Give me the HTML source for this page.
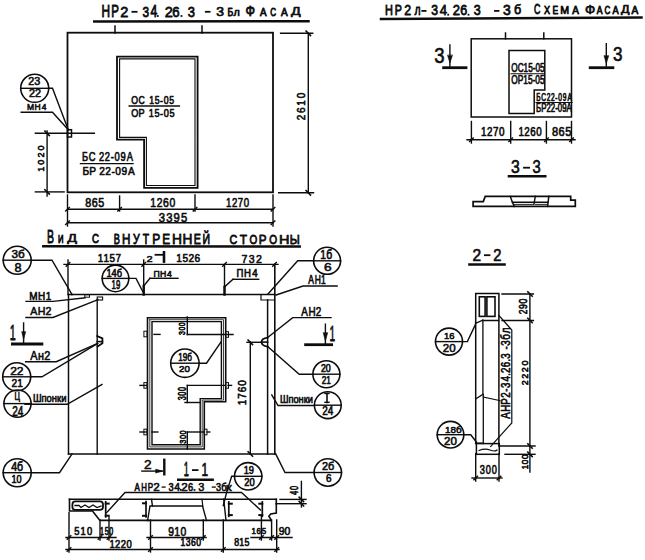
<!DOCTYPE html>
<html><head><meta charset="utf-8"><style>
html,body{margin:0;padding:0;background:#fff;}
body{width:645px;height:560px;overflow:hidden;}
svg{display:block;}
svg text{font-family:"Liberation Sans", sans-serif;fill:#0d0d0d;stroke:none;}
svg text.h{stroke:#0d0d0d;stroke-width:0.75px;stroke-linejoin:round;vector-effect:non-scaling-stroke;}
svg text.c{stroke:#0d0d0d;stroke-width:0.6px;stroke-linejoin:round;vector-effect:non-scaling-stroke;}
svg text.m{stroke:#0d0d0d;stroke-width:0.6px;stroke-linejoin:round;vector-effect:non-scaling-stroke;}
</style></head><body>
<svg width="645" height="560" viewBox="0 0 645 560">
<rect x="0" y="0" width="645" height="560" fill="#fff"/>
<g fill="none" stroke="#0d0d0d" stroke-linecap="square" stroke-linejoin="miter">
<text transform="translate(101.44,16.71) scale(0.754,1)" font-size="15.69" class="h">Н</text>
<text transform="translate(111.27,16.71) scale(0.730,1)" font-size="15.69" class="h">Р</text>
<text transform="translate(120.26,16.71) scale(0.942,1)" font-size="15.46" class="h">2</text>
<polyline points="132.4,11.8 136.6,11.8" stroke-width="1.8"/>
<text transform="translate(142.41,16.56) scale(0.777,1)" font-size="15.25" class="h">3</text>
<text transform="translate(150.54,16.71) scale(0.773,1)" font-size="15.69" class="h">4</text>
<rect x="156.9" y="15.1" width="1.8" height="1.8" fill="#0d0d0d" stroke="none"/>
<text transform="translate(164.66,16.71) scale(0.942,1)" font-size="15.46" class="h">2</text>
<text transform="translate(172.23,16.56) scale(0.864,1)" font-size="15.25" class="h">6</text>
<rect x="180.6" y="15.1" width="1.8" height="1.8" fill="#0d0d0d" stroke="none"/>
<text transform="translate(187.67,16.56) scale(0.846,1)" font-size="15.25" class="h">3</text>
<polyline points="205.8,11.8 209.6,11.8" stroke-width="1.8"/>
<text transform="translate(216.23,15.98) scale(1.073,1)" font-size="12.99" class="h">3</text>
<text transform="translate(227.38,16.01) scale(0.841,1)" font-size="10.47" class="h">Б</text>
<text transform="translate(233.39,16.42) scale(1.030,1)" font-size="9.32" class="h">Л</text>
<text transform="translate(245.50,16.44) scale(0.839,1)" font-size="14.89" class="h">Ф</text>
<text transform="translate(259.99,16.21) scale(0.844,1)" font-size="11.63" class="h">А</text>
<text transform="translate(270.28,16.10) scale(0.714,1)" font-size="11.30" class="h">С</text>
<text transform="translate(280.89,16.21) scale(0.857,1)" font-size="11.63" class="h">А</text>
<text transform="translate(291.12,14.90) scale(1.290,1)" font-size="11.04" class="h">Д</text>
<polyline points="94.3,21.5 308.5,21.3" stroke-width="2.5"/>
<rect x="67.5" y="32.7" width="205.5" height="159.6" stroke-width="1.8"/>
<polyline points="115.0,26.0 115.0,33.0" stroke-width="1.5"/>
<polyline points="202.0,26.0 202.0,33.0" stroke-width="1.5"/>
<polyline points="117.0,56.6 197.6,56.6 197.6,187.8 144.1,187.8 144.1,139.7 117.0,139.7 117.0,56.6" stroke-width="1.8"/>
<polyline points="119.6,58.9 195.0,58.9 195.0,185.5 146.4,185.5 146.4,137.4 119.6,137.4 119.6,58.9" stroke-width="1.1"/>
<text transform="translate(131.26,103.85) scale(0.761,1)" font-size="11.41" class="m">О</text>
<text transform="translate(138.53,103.85) scale(0.761,1)" font-size="11.41" class="m">С</text>
<text transform="translate(149.20,103.85) scale(0.761,1)" font-size="11.41" class="m">1</text>
<text transform="translate(154.65,103.85) scale(0.761,1)" font-size="11.41" class="m">5</text>
<text transform="translate(160.10,103.85) scale(0.761,1)" font-size="11.41" class="m">-</text>
<text transform="translate(163.64,103.85) scale(0.761,1)" font-size="11.41" class="m">0</text>
<text transform="translate(169.18,103.85) scale(0.761,1)" font-size="11.41" class="m">5</text>
<polyline points="129.2,106.0 179.4,106.0" stroke-width="1.4"/>
<text transform="translate(131.24,117.25) scale(0.810,1)" font-size="11.27" class="m">О</text>
<text transform="translate(138.52,117.25) scale(0.810,1)" font-size="11.27" class="m">Р</text>
<text transform="translate(148.80,117.25) scale(0.810,1)" font-size="11.27" class="m">1</text>
<text transform="translate(154.44,117.25) scale(0.810,1)" font-size="11.27" class="m">5</text>
<text transform="translate(160.08,117.25) scale(0.810,1)" font-size="11.27" class="m">-</text>
<text transform="translate(163.72,117.25) scale(0.810,1)" font-size="11.27" class="m">0</text>
<text transform="translate(169.45,117.25) scale(0.810,1)" font-size="11.27" class="m">5</text>
<circle cx="34.7" cy="88.3" r="14.0" stroke-width="1.6"/>
<polyline points="20.7,88.3 48.7,88.3" stroke-width="1.4"/>
<text transform="translate(28.36,84.75) scale(1.059,1)" font-size="10.14" class="c">23</text>
<text transform="translate(29.01,97.35) scale(1.049,1)" font-size="10.29" class="c">22</text>
<text transform="translate(26.97,110.45) scale(0.920,1)" font-size="9.23" class="m">М</text>
<text transform="translate(34.52,110.45) scale(0.920,1)" font-size="9.23" class="m">Н</text>
<text transform="translate(41.64,110.45) scale(0.920,1)" font-size="9.23" class="m">4</text>
<polyline points="21.2,112.2 52.5,112.2 68.5,130.0" stroke-width="1.4"/>
<polyline points="48.7,88.3 52.5,88.3 68.0,129.0" stroke-width="1.4"/>
<rect x="67.5" y="129.7" width="4.0" height="7.3" stroke-width="1.5"/>
<polyline points="35.4,133.3 94.3,133.3" stroke-width="1.4"/>
<polyline points="47.1,131.0 47.1,196.0" stroke-width="1.4"/>
<polyline points="44.9,131.1 49.3,135.5" stroke-width="1.6"/>
<polyline points="44.9,189.7 49.3,194.1" stroke-width="1.6"/>
<g transform="translate(36.70,171.20) rotate(-90)">
<text transform="translate(-0.53,7.15) scale(0.920,1)" font-size="9.86" class="m">1</text>
<text transform="translate(6.54,7.15) scale(0.920,1)" font-size="9.86" class="m">0</text>
<text transform="translate(13.61,7.15) scale(0.920,1)" font-size="9.86" class="m">2</text>
<text transform="translate(20.63,7.15) scale(0.920,1)" font-size="9.86" class="m">0</text>
</g>
<polyline points="35.4,191.9 64.1,191.9" stroke-width="1.4"/>
<text transform="translate(82.00,161.45) scale(0.754,1)" font-size="12.39" class="m">Б</text>
<text transform="translate(88.68,161.45) scale(0.754,1)" font-size="12.39" class="m">С</text>
<text transform="translate(99.10,161.45) scale(0.754,1)" font-size="12.39" class="m">2</text>
<text transform="translate(104.84,161.45) scale(0.754,1)" font-size="12.39" class="m">2</text>
<text transform="translate(110.63,161.45) scale(0.754,1)" font-size="12.39" class="m">-</text>
<text transform="translate(114.45,161.45) scale(0.754,1)" font-size="12.39" class="m">0</text>
<text transform="translate(120.38,161.45) scale(0.754,1)" font-size="12.39" class="m">9</text>
<text transform="translate(126.63,161.45) scale(0.754,1)" font-size="12.39" class="m">А</text>
<polyline points="80.5,163.6 133.0,163.6" stroke-width="1.4"/>
<text transform="translate(82.44,174.55) scale(0.867,1)" font-size="11.69" class="m">Б</text>
<text transform="translate(89.16,174.55) scale(0.867,1)" font-size="11.69" class="m">Р</text>
<text transform="translate(99.30,174.55) scale(0.867,1)" font-size="11.69" class="m">2</text>
<text transform="translate(105.31,174.55) scale(0.867,1)" font-size="11.69" class="m">2</text>
<text transform="translate(111.38,174.55) scale(0.867,1)" font-size="11.69" class="m">-</text>
<text transform="translate(115.32,174.55) scale(0.867,1)" font-size="11.69" class="m">0</text>
<text transform="translate(121.53,174.55) scale(0.867,1)" font-size="11.69" class="m">9</text>
<text transform="translate(128.11,174.55) scale(0.867,1)" font-size="11.69" class="m">А</text>
<polyline points="67.5,209.3 273.0,209.3" stroke-width="1.4"/>
<polyline points="65.7,211.1 69.3,207.5" stroke-width="1.4"/>
<polyline points="117.8,211.1 121.4,207.5" stroke-width="1.4"/>
<polyline points="193.2,211.1 196.8,207.5" stroke-width="1.4"/>
<polyline points="271.2,211.1 274.8,207.5" stroke-width="1.4"/>
<polyline points="67.5,195.0 67.5,226.0" stroke-width="1.4"/>
<polyline points="119.6,196.0 119.6,211.0" stroke-width="1.4"/>
<polyline points="195.0,195.0 195.0,211.0" stroke-width="1.4"/>
<polyline points="273.0,195.0 273.0,226.0" stroke-width="1.4"/>
<text transform="translate(85.27,206.85) scale(0.877,1)" font-size="12.25" class="m">8</text>
<text transform="translate(91.74,206.85) scale(0.877,1)" font-size="12.25" class="m">6</text>
<text transform="translate(98.31,206.85) scale(0.877,1)" font-size="12.25" class="m">5</text>
<text transform="translate(150.37,207.35) scale(0.801,1)" font-size="12.96" class="m">1</text>
<text transform="translate(156.70,207.35) scale(0.801,1)" font-size="12.96" class="m">2</text>
<text transform="translate(162.97,207.35) scale(0.801,1)" font-size="12.96" class="m">6</text>
<text transform="translate(169.46,207.35) scale(0.801,1)" font-size="12.96" class="m">0</text>
<text transform="translate(225.93,207.35) scale(0.742,1)" font-size="12.96" class="m">1</text>
<text transform="translate(231.90,207.35) scale(0.742,1)" font-size="12.96" class="m">2</text>
<text transform="translate(237.83,207.35) scale(0.742,1)" font-size="12.96" class="m">7</text>
<text transform="translate(243.85,207.35) scale(0.742,1)" font-size="12.96" class="m">0</text>
<polyline points="67.5,222.8 273.0,222.8" stroke-width="1.4"/>
<polyline points="65.7,224.6 69.3,221.0" stroke-width="1.4"/>
<polyline points="271.2,224.6 274.8,221.0" stroke-width="1.4"/>
<text transform="translate(158.70,221.85) scale(0.920,1)" font-size="12.25" class="m">3</text>
<text transform="translate(166.19,221.85) scale(0.920,1)" font-size="12.25" class="m">3</text>
<text transform="translate(173.61,221.85) scale(0.920,1)" font-size="12.25" class="m">9</text>
<text transform="translate(181.04,221.85) scale(0.920,1)" font-size="12.25" class="m">5</text>
<polyline points="280.6,33.3 312.7,33.3" stroke-width="1.4"/>
<polyline points="278.7,192.8 313.5,192.8" stroke-width="1.4"/>
<polyline points="308.3,33.3 308.3,192.8" stroke-width="1.4"/>
<polyline points="306.1,31.1 310.5,35.5" stroke-width="1.6"/>
<polyline points="306.1,190.6 310.5,195.0" stroke-width="1.6"/>
<g transform="translate(297.50,120.00) rotate(-90)">
<text transform="translate(-0.35,7.85) scale(0.920,1)" font-size="10.85" class="m">2</text>
<text transform="translate(6.99,7.85) scale(0.920,1)" font-size="10.85" class="m">6</text>
<text transform="translate(14.18,7.85) scale(0.920,1)" font-size="10.85" class="m">1</text>
<text transform="translate(21.66,7.85) scale(0.920,1)" font-size="10.85" class="m">0</text>
</g>
<text transform="translate(46.95,243.01) scale(0.553,1)" font-size="19.02" class="h">В</text>
<text transform="translate(57.88,243.01) scale(0.698,1)" font-size="10.91" class="h">И</text>
<text transform="translate(67.22,242.09) scale(1.240,1)" font-size="11.60" class="h">Д</text>
<text transform="translate(91.91,243.39) scale(0.803,1)" font-size="12.01" class="h">С</text>
<text transform="translate(113.75,244.01) scale(0.634,1)" font-size="14.53" class="h">В</text>
<text transform="translate(121.96,244.01) scale(0.802,1)" font-size="14.53" class="h">Н</text>
<text transform="translate(133.07,243.87) scale(0.735,1)" font-size="14.32" class="h">У</text>
<text transform="translate(142.68,244.01) scale(0.715,1)" font-size="14.53" class="h">Т</text>
<text transform="translate(152.23,244.01) scale(0.827,1)" font-size="14.53" class="h">Р</text>
<text transform="translate(162.14,244.01) scale(0.811,1)" font-size="14.53" class="h">Е</text>
<text transform="translate(171.88,244.01) scale(0.949,1)" font-size="14.53" class="h">Н</text>
<text transform="translate(182.38,244.01) scale(0.949,1)" font-size="14.53" class="h">Н</text>
<text transform="translate(193.83,244.01) scale(0.736,1)" font-size="14.53" class="h">Е</text>
<text transform="translate(202.55,244.01) scale(0.737,1)" font-size="14.25" class="h">Й</text>
<text transform="translate(229.55,244.19) scale(0.855,1)" font-size="12.57" class="h">С</text>
<text transform="translate(239.75,244.31) scale(0.926,1)" font-size="12.93" class="h">Т</text>
<text transform="translate(249.44,244.19) scale(0.793,1)" font-size="12.57" class="h">О</text>
<text transform="translate(258.76,244.31) scale(0.900,1)" font-size="12.93" class="h">Р</text>
<text transform="translate(269.13,244.19) scale(0.804,1)" font-size="12.57" class="h">О</text>
<text transform="translate(279.03,244.31) scale(1.122,1)" font-size="12.93" class="h">Н</text>
<text transform="translate(289.78,244.31) scale(0.877,1)" font-size="12.93" class="h">Ы</text>
<polyline points="43.3,246.3 299.7,246.4" stroke-width="2.5"/>
<circle cx="17.2" cy="260.2" r="14.0" stroke-width="1.6"/>
<polyline points="3.2,260.2 31.2,260.2" stroke-width="1.4"/>
<text transform="translate(11.58,258.49) scale(1.056,1)" font-size="11.06" class="c">3б</text>
<text transform="translate(14.58,271.62) scale(0.988,1)" font-size="12.82" class="c">8</text>
<polyline points="31.2,260.2 52.0,260.2 72.0,294.5" stroke-width="1.4"/>
<polyline points="64.0,264.4 278.0,264.4" stroke-width="1.4"/>
<polyline points="66.2,266.2 69.8,262.6" stroke-width="1.4"/>
<polyline points="141.9,266.2 145.5,262.6" stroke-width="1.4"/>
<polyline points="222.7,266.2 226.3,262.6" stroke-width="1.4"/>
<polyline points="272.7,266.2 276.3,262.6" stroke-width="1.4"/>
<polyline points="68.0,260.0 68.0,294.5" stroke-width="1.4"/>
<polyline points="143.7,260.0 143.7,294.5" stroke-width="1.4"/>
<polyline points="224.5,264.4 224.5,294.5" stroke-width="1.4"/>
<polyline points="143.7,286.0 143.7,294.5" stroke-width="2.4"/>
<polyline points="224.5,287.0 224.5,294.5" stroke-width="2.4"/>
<text transform="translate(97.81,262.35) scale(0.853,1)" font-size="11.55" class="m">1</text>
<text transform="translate(103.48,262.35) scale(0.853,1)" font-size="11.55" class="m">1</text>
<text transform="translate(109.50,262.35) scale(0.853,1)" font-size="11.55" class="m">5</text>
<text transform="translate(115.47,262.35) scale(0.853,1)" font-size="11.55" class="m">7</text>
<text transform="translate(146.60,262.35) scale(1.148,1)" font-size="9.57" class="m">2</text>
<polyline points="155.5,254.8 162.4,254.8" stroke-width="1.8"/>
<polyline points="164.0,252.3 164.0,261.6" stroke-width="2.6"/>
<text transform="translate(176.29,262.35) scale(0.877,1)" font-size="11.55" class="m">1</text>
<text transform="translate(182.44,262.35) scale(0.877,1)" font-size="11.55" class="m">5</text>
<text transform="translate(188.54,262.35) scale(0.877,1)" font-size="11.55" class="m">2</text>
<text transform="translate(194.53,262.35) scale(0.877,1)" font-size="11.55" class="m">6</text>
<text transform="translate(241.62,262.65) scale(0.920,1)" font-size="11.55" class="m">7</text>
<text transform="translate(248.75,262.65) scale(0.920,1)" font-size="11.55" class="m">3</text>
<text transform="translate(255.88,262.65) scale(0.920,1)" font-size="11.55" class="m">2</text>
<circle cx="115.5" cy="278.4" r="13.3" stroke-width="1.6"/>
<polyline points="102.2,278.4 128.8,278.4" stroke-width="1.4"/>
<text transform="translate(106.46,277.04) scale(0.854,1)" font-size="10.85" class="c">14б</text>
<text transform="translate(111.57,289.12) scale(0.607,1)" font-size="12.82" class="c">19</text>
<polyline points="128.8,278.4 136.0,278.4 142.8,291.6" stroke-width="1.4"/>
<text transform="translate(153.46,276.65) scale(0.920,1)" font-size="9.44" class="m">П</text>
<text transform="translate(160.01,276.65) scale(0.920,1)" font-size="9.44" class="m">Н</text>
<text transform="translate(167.09,276.65) scale(0.920,1)" font-size="9.44" class="m">4</text>
<polyline points="150.0,278.3 178.0,278.3" stroke-width="1.4"/>
<polyline points="150.0,278.3 143.7,286.0" stroke-width="1.4"/>
<text transform="translate(236.38,276.95) scale(0.920,1)" font-size="10.42" class="m">П</text>
<text transform="translate(244.06,276.95) scale(0.920,1)" font-size="10.42" class="m">Н</text>
<text transform="translate(252.32,276.95) scale(0.920,1)" font-size="10.42" class="m">4</text>
<polyline points="233.0,279.3 258.7,279.3" stroke-width="1.4"/>
<polyline points="233.0,279.3 224.5,286.9" stroke-width="1.4"/>
<polyline points="68.5,294.5 274.5,294.5" stroke-width="1.5"/>
<polyline points="68.5,294.5 68.5,454.0" stroke-width="1.5"/>
<polyline points="274.8,264.4 274.8,454.0" stroke-width="1.6"/>
<polyline points="97.2,299.4 97.2,454.0" stroke-width="1.4"/>
<polyline points="267.6,300.0 267.6,454.0" stroke-width="1.5"/>
<polyline points="68.5,454.0 275.0,454.0" stroke-width="1.5"/>
<rect x="84.8" y="294.7" width="4.7" height="2.5" stroke-width="1.0"/>
<rect x="97.2" y="297.0" width="5.4" height="3.0" stroke-width="1.1"/>
<polyline points="261.0,294.7 261.0,300.0 274.5,300.0" stroke-width="1.2"/>
<polyline points="97.2,336.0 102.4,338.4 102.4,343.2 97.6,346.4" stroke-width="1.8"/>
<polyline points="97.2,341.6 102.4,341.6" stroke-width="1.6"/>
<path d="M267.6,337.6 C263.5,338.2 261.5,340 261.5,342.1 C261.5,344.3 263.5,346.1 267.6,346.7" stroke-width="1.8"/>
<polyline points="261.5,342.1 267.6,342.1" stroke-width="1.6"/>
<text transform="translate(29.35,299.85) scale(0.920,1)" font-size="10.85" class="m">М</text>
<text transform="translate(38.08,299.85) scale(0.920,1)" font-size="10.85" class="m">Н</text>
<text transform="translate(45.76,299.85) scale(0.920,1)" font-size="10.85" class="m">1</text>
<polyline points="26.0,301.4 53.0,301.4 85.0,297.8" stroke-width="1.4"/>
<text transform="translate(30.15,315.35) scale(0.920,1)" font-size="11.55" class="m">А</text>
<text transform="translate(37.79,315.35) scale(0.920,1)" font-size="11.55" class="m">Н</text>
<text transform="translate(45.48,315.35) scale(0.920,1)" font-size="11.55" class="m">2</text>
<polyline points="26.0,317.5 53.0,317.5 98.0,299.6" stroke-width="1.4"/>
<polyline points="41.0,299.4 41.0,299.4" stroke-width="1.4"/>
<polyline points="72.0,294.5 72.0,294.5" stroke-width="1.4"/>
<text transform="translate(9.84,339.55) scale(0.490,1)" font-size="22.03" class="m">1</text>
<polyline points="23.6,323.0 23.6,343.0" stroke-width="1.4"/>
<path d="M21.8,332 L23.6,339.5 L25.6,332 Z" fill="#0d0d0d" stroke-width="0.6"/>
<polyline points="12.4,344.0 41.9,344.0" stroke-width="2.8"/>
<text transform="translate(30.15,359.85) scale(0.891,1)" font-size="12.25" class="m">А</text>
<text transform="translate(38.12,359.85) scale(0.891,1)" font-size="12.25" class="m">н</text>
<text transform="translate(44.34,359.85) scale(0.891,1)" font-size="12.25" class="m">2</text>
<polyline points="25.6,361.7 56.3,361.7 97.6,343.5" stroke-width="1.4"/>
<circle cx="16.7" cy="376.8" r="14.0" stroke-width="1.6"/>
<polyline points="2.7,376.8 30.7,376.8" stroke-width="1.4"/>
<text transform="translate(10.15,374.85) scale(1.084,1)" font-size="11.14" class="c">22</text>
<text transform="translate(11.54,387.35) scale(0.911,1)" font-size="11.14" class="c">21</text>
<polyline points="30.7,376.8 42.0,376.8 97.6,343.5" stroke-width="1.4"/>
<circle cx="17.5" cy="403.6" r="13.6" stroke-width="1.6"/>
<polyline points="3.9,403.6 31.1,403.6" stroke-width="1.4"/>
<text transform="translate(14.56,400.17) scale(0.674,1)" font-size="10.90" class="c">Ц</text>
<text transform="translate(12.15,416.10) scale(0.722,1)" font-size="13.86" class="c">24</text>
<text transform="translate(32.90,402.14) scale(0.846,1)" font-size="11.14" class="m">Шпонки</text>
<polyline points="25.0,404.3 67.2,404.3 102.0,384.5" stroke-width="1.4"/>
<circle cx="17.2" cy="472.7" r="14.0" stroke-width="1.6"/>
<polyline points="3.2,472.7 31.2,472.7" stroke-width="1.4"/>
<text transform="translate(11.14,470.63) scale(0.876,1)" font-size="12.11" class="c">4б</text>
<text transform="translate(11.47,483.14) scale(0.839,1)" font-size="10.85" class="c">10</text>
<polyline points="31.2,472.7 59.5,472.7 72.0,454.0" stroke-width="1.4"/>
<polyline points="147.5,317.8 225.7,317.8 225.7,401.7 204.3,401.7 204.3,449.0 147.5,449.0 147.5,317.8" stroke-width="1.6"/>
<polyline points="149.8,319.7 223.5,319.7 223.5,400.1 202.2,400.1 202.2,446.9 149.8,446.9 149.8,319.7" stroke-width="0.8"/>
<polyline points="152.0,321.6 221.4,321.6 221.4,398.6 200.2,398.6 200.2,444.8 152.0,444.8 152.0,321.6" stroke-width="1.4"/>
<rect x="143.9" y="331.2" width="3.1" height="5.6" stroke-width="1.0"/>
<rect x="143.9" y="382.6" width="3.1" height="5.6" stroke-width="1.0"/>
<rect x="143.9" y="429.2" width="3.1" height="5.6" stroke-width="1.0"/>
<rect x="225.7" y="331.7" width="2.8" height="5.6" stroke-width="1.0"/>
<rect x="225.7" y="382.6" width="2.8" height="5.6" stroke-width="1.0"/>
<rect x="204.3" y="429.2" width="2.7" height="5.6" stroke-width="1.0"/>
<polyline points="140.0,385.4 147.0,385.4" stroke-width="1.4"/>
<polyline points="140.0,432.0 147.0,432.0" stroke-width="1.4"/>
<polyline points="152.0,432.0 157.8,432.0" stroke-width="1.4"/>
<polyline points="228.0,385.4 231.5,385.4" stroke-width="1.4"/>
<polyline points="207.0,432.0 209.8,432.0" stroke-width="1.4"/>
<polyline points="154.0,334.4 160.0,334.4" stroke-width="1.4"/>
<polyline points="187.3,317.0 187.3,334.6" stroke-width="1.4"/>
<polyline points="187.3,334.5 233.0,334.5" stroke-width="1.4"/>
<g transform="translate(178.40,334.80) rotate(-90)">
<text transform="translate(-0.13,6.45) scale(0.783,1)" font-size="8.87" class="m">3</text>
<text transform="translate(4.24,6.45) scale(0.783,1)" font-size="8.87" class="m">0</text>
<text transform="translate(8.64,6.45) scale(0.783,1)" font-size="8.87" class="m">0</text>
</g>
<polyline points="187.3,385.4 187.3,402.5" stroke-width="1.4"/>
<polyline points="187.3,385.4 225.0,385.4" stroke-width="1.4"/>
<polyline points="185.0,402.5 199.7,402.5" stroke-width="1.4"/>
<g transform="translate(178.00,400.20) rotate(-90)">
<text transform="translate(-0.14,7.55) scale(0.695,1)" font-size="10.42" class="m">3</text>
<text transform="translate(4.55,7.55) scale(0.695,1)" font-size="10.42" class="m">0</text>
<text transform="translate(9.28,7.55) scale(0.695,1)" font-size="10.42" class="m">0</text>
</g>
<polyline points="187.3,432.0 187.3,449.0" stroke-width="1.4"/>
<polyline points="187.3,432.0 204.0,432.0" stroke-width="1.4"/>
<g transform="translate(178.80,443.60) rotate(-90)">
<text transform="translate(-0.15,6.75) scale(0.800,1)" font-size="9.30" class="m">3</text>
<text transform="translate(4.50,6.75) scale(0.800,1)" font-size="9.30" class="m">0</text>
<text transform="translate(9.18,6.75) scale(0.800,1)" font-size="9.30" class="m">0</text>
</g>
<circle cx="184.9" cy="363.2" r="14.2" stroke-width="1.6"/>
<polyline points="170.7,363.2 199.1,363.2" stroke-width="1.4"/>
<text transform="translate(178.34,360.73) scale(0.703,1)" font-size="11.55" class="c">19б</text>
<text transform="translate(178.96,372.35) scale(1.004,1)" font-size="9.72" class="c">20</text>
<polyline points="199.1,363.2 206.5,363.2 221.0,342.0" stroke-width="1.4"/>
<polyline points="250.3,342.0 250.3,454.0" stroke-width="1.4"/>
<polyline points="247.0,342.3 261.5,342.3" stroke-width="1.4"/>
<polyline points="248.1,340.1 252.5,344.5" stroke-width="1.6"/>
<polyline points="248.1,451.8 252.5,456.2" stroke-width="1.6"/>
<g transform="translate(238.00,404.60) rotate(-90)">
<text transform="translate(-0.60,7.85) scale(0.920,1)" font-size="10.85" class="m">1</text>
<text transform="translate(5.86,7.85) scale(0.920,1)" font-size="10.85" class="m">7</text>
<text transform="translate(12.26,7.85) scale(0.920,1)" font-size="10.85" class="m">6</text>
<text transform="translate(18.86,7.85) scale(0.920,1)" font-size="10.85" class="m">0</text>
</g>
<circle cx="327.1" cy="260.8" r="13.5" stroke-width="1.6"/>
<polyline points="313.6,260.8 340.6,260.8" stroke-width="1.4"/>
<text transform="translate(320.37,258.93) scale(0.858,1)" font-size="12.11" class="c">1б</text>
<text transform="translate(324.06,271.03) scale(1.192,1)" font-size="11.55" class="c">6</text>
<polyline points="313.6,260.8 297.7,260.8 268.0,294.0" stroke-width="1.4"/>
<text transform="translate(308.25,284.45) scale(0.668,1)" font-size="12.68" class="m">А</text>
<text transform="translate(314.73,284.45) scale(0.668,1)" font-size="12.68" class="m">Н</text>
<text transform="translate(321.03,284.45) scale(0.668,1)" font-size="12.68" class="m">1</text>
<polyline points="337.1,286.0 303.0,286.0 276.0,295.0" stroke-width="1.4"/>
<text transform="translate(301.15,316.35) scale(0.762,1)" font-size="12.96" class="m">А</text>
<text transform="translate(308.48,316.35) scale(0.762,1)" font-size="12.96" class="m">Н</text>
<text transform="translate(315.86,316.35) scale(0.762,1)" font-size="12.96" class="m">2</text>
<polyline points="331.0,317.6 292.7,317.6 267.6,337.6" stroke-width="1.4"/>
<text transform="translate(329.39,341.15) scale(0.465,1)" font-size="21.74" class="m">1</text>
<polyline points="325.4,324.2 325.4,344.0" stroke-width="1.4"/>
<path d="M323.3,333 L325.4,341 L327.6,333 Z" fill="#0d0d0d" stroke-width="0.6"/>
<polyline points="305.6,344.7 331.6,344.7" stroke-width="2.8"/>
<circle cx="326.4" cy="374.2" r="13.5" stroke-width="1.6"/>
<polyline points="312.9,374.2 339.9,374.2" stroke-width="1.4"/>
<text transform="translate(320.96,371.65) scale(0.871,1)" font-size="10.14" class="c">20</text>
<text transform="translate(321.64,384.25) scale(0.743,1)" font-size="11.14" class="c">21</text>
<polyline points="312.9,374.2 299.2,374.2 267.6,346.5" stroke-width="1.4"/>
<circle cx="327.8" cy="405.2" r="13.4" stroke-width="1.6"/>
<polyline points="314.4,405.2 341.2,405.2" stroke-width="1.4"/>
<text transform="translate(322.15,415.45) scale(0.833,1)" font-size="12.00" class="c">24</text>
<polyline points="327.0,393.5 327.0,402.5" stroke-width="1.6"/>
<polyline points="325.0,393.5 329.0,393.5" stroke-width="1.4"/>
<polyline points="325.0,402.3 329.0,402.3" stroke-width="1.4"/>
<text transform="translate(279.91,403.34) scale(0.833,1)" font-size="11.14" class="m">Шпонки</text>
<polyline points="313.7,405.5 278.0,405.5 271.8,395.0" stroke-width="1.4"/>
<circle cx="327.8" cy="472.5" r="13.7" stroke-width="1.6"/>
<polyline points="314.1,472.5 341.5,472.5" stroke-width="1.4"/>
<text transform="translate(322.00,470.14) scale(0.957,1)" font-size="11.41" class="c">2б</text>
<text transform="translate(326.06,482.25) scale(0.962,1)" font-size="10.28" class="c">6</text>
<polyline points="314.1,472.5 285.0,472.5 275.5,453.5" stroke-width="1.4"/>
<text transform="translate(143.97,468.85) scale(1.072,1)" font-size="12.71" class="m">2</text>
<polyline points="141.9,471.1 162.0,471.1" stroke-width="1.4"/>
<path d="M156,469.3 L163,471.1 L156,472.9 Z" fill="#0d0d0d" stroke-width="0.6"/>
<polyline points="164.3,459.8 164.3,474.3" stroke-width="2.4"/>
<text transform="translate(183.86,476.45) scale(0.467,1)" font-size="19.71" class="m">1</text>
<polyline points="192.9,470.1 197.6,470.1" stroke-width="1.8"/>
<text transform="translate(201.45,476.45) scale(0.634,1)" font-size="18.84" class="m">1</text>
<polyline points="178.2,479.7 212.7,479.7" stroke-width="2.4"/>
<text transform="translate(134.45,490.65) scale(0.679,1)" font-size="11.74" class="m">А</text>
<text transform="translate(141.22,490.65) scale(0.669,1)" font-size="11.74" class="m">Н</text>
<text transform="translate(147.81,490.65) scale(0.685,1)" font-size="11.74" class="m">Р</text>
<text transform="translate(153.37,490.65) scale(1.007,1)" font-size="11.57" class="m">2</text>
<polyline points="162.2,487.1 165.0,487.1" stroke-width="1.3"/>
<text transform="translate(168.48,490.54) scale(0.812,1)" font-size="11.41" class="m">3</text>
<text transform="translate(174.24,490.65) scale(0.894,1)" font-size="11.74" class="m">4</text>
<rect x="179.9" y="489.0" width="1.8" height="1.8" fill="#0d0d0d" stroke="none"/>
<text transform="translate(181.27,490.65) scale(1.007,1)" font-size="11.57" class="m">2</text>
<text transform="translate(187.99,490.54) scale(0.811,1)" font-size="11.41" class="m">6</text>
<rect x="193.6" y="489.0" width="1.8" height="1.8" fill="#0d0d0d" stroke="none"/>
<text transform="translate(198.21,490.54) scale(0.960,1)" font-size="11.41" class="m">3</text>
<polyline points="212.4,487.1 215.2,487.1" stroke-width="1.3"/>
<text transform="translate(215.99,490.54) scale(0.794,1)" font-size="11.41" class="m">3</text>
<text transform="translate(221.29,490.54) scale(0.861,1)" font-size="10.87" class="m">б</text>
<text transform="translate(225.87,490.65) scale(1.201,1)" font-size="11.32" class="m">к</text>
<polyline points="106.7,512.6 125.0,492.5 241.5,492.5 260.5,510.0" stroke-width="1.4"/>
<circle cx="248.2" cy="476.3" r="13.7" stroke-width="1.6"/>
<polyline points="234.5,476.3 261.9,476.3" stroke-width="1.4"/>
<text transform="translate(243.66,473.94) scale(0.848,1)" font-size="10.85" class="c">19</text>
<text transform="translate(244.28,485.55) scale(0.911,1)" font-size="10.28" class="c">20</text>
<polyline points="234.5,476.3 231.7,476.3 226.8,491.6 223.3,505.6" stroke-width="1.4"/>
<polyline points="69.5,499.2 276.3,499.2" stroke-width="1.6"/>
<polyline points="69.5,499.2 69.5,511.0 92.5,511.0 99.9,520.4 148.0,520.4" stroke-width="1.6"/>
<polyline points="147.6,520.3 150.0,506.0 202.5,506.0 206.5,520.4" stroke-width="1.4"/>
<polyline points="151.6,499.3 152.4,506.0" stroke-width="1.4"/>
<polyline points="202.0,499.3 202.8,506.3" stroke-width="1.2"/>
<polyline points="147.6,520.4 270.7,520.4" stroke-width="1.6"/>
<polyline points="223.7,499.2 226.0,520.4" stroke-width="1.4"/>
<polyline points="276.3,499.2 276.3,513.0 270.7,514.0 268.8,516.3 270.7,519.1 270.7,520.5" stroke-width="1.6"/>
<rect x="72.4" y="501.4" width="30.6" height="8.5" rx="3" stroke-width="1.8"/>
<path d="M75,505.5 L79,505.5 L81,507.5 L85,505 L89,507.5 L93,505 L97,507.5 L101,506" stroke-width="1.3"/>
<polyline points="105.7,501.8 105.7,516.9" stroke-width="1.7"/>
<polyline points="105.7,503.6 108.7,503.6" stroke-width="2.0"/>
<polyline points="105.7,515.7 108.7,515.7" stroke-width="2.0"/>
<polyline points="146.0,501.5 146.0,517.0" stroke-width="1.7"/>
<polyline points="146.0,503.3 143.0,503.3" stroke-width="2.0"/>
<polyline points="146.0,515.8 143.0,515.8" stroke-width="2.0"/>
<polyline points="228.8,501.9 228.8,516.3" stroke-width="1.7"/>
<polyline points="228.8,503.7 231.8,503.7" stroke-width="2.0"/>
<polyline points="228.8,515.1 231.8,515.1" stroke-width="2.0"/>
<polyline points="262.3,501.9 262.3,516.3" stroke-width="1.7"/>
<polyline points="262.3,503.7 259.3,503.7" stroke-width="2.0"/>
<polyline points="262.3,515.1 259.3,515.1" stroke-width="2.0"/>
<polyline points="69.0,512.6 69.0,552.0" stroke-width="1.4"/>
<polyline points="100.0,520.0 100.0,540.0" stroke-width="1.4"/>
<polyline points="109.0,517.0 109.0,540.0" stroke-width="1.4"/>
<polyline points="150.5,520.0 150.5,552.0" stroke-width="1.4"/>
<polyline points="203.3,520.0 203.3,540.0" stroke-width="1.4"/>
<polyline points="223.3,520.0 223.3,552.0" stroke-width="1.4"/>
<polyline points="261.4,516.0 261.4,540.0" stroke-width="1.4"/>
<polyline points="271.6,520.0 271.6,540.0" stroke-width="1.4"/>
<polyline points="276.7,520.0 276.7,552.0" stroke-width="1.4"/>
<polyline points="66.0,537.5 116.0,537.5" stroke-width="1.4"/>
<polyline points="147.0,537.5 206.0,537.5" stroke-width="1.4"/>
<polyline points="251.0,537.5 292.0,537.5" stroke-width="1.4"/>
<polyline points="67.2,539.3 70.8,535.7" stroke-width="1.4"/>
<polyline points="98.2,539.3 101.8,535.7" stroke-width="1.4"/>
<polyline points="107.2,539.3 110.8,535.7" stroke-width="1.4"/>
<polyline points="148.7,539.3 152.3,535.7" stroke-width="1.4"/>
<polyline points="201.5,539.3 205.1,535.7" stroke-width="1.4"/>
<polyline points="259.6,539.3 263.2,535.7" stroke-width="1.4"/>
<polyline points="269.8,539.3 273.4,535.7" stroke-width="1.4"/>
<polyline points="274.9,539.3 278.5,535.7" stroke-width="1.4"/>
<polyline points="66.0,549.5 279.0,549.5" stroke-width="1.4"/>
<polyline points="67.2,551.3 70.8,547.7" stroke-width="1.4"/>
<polyline points="148.7,551.3 152.3,547.7" stroke-width="1.4"/>
<polyline points="221.5,551.3 225.1,547.7" stroke-width="1.4"/>
<polyline points="274.9,551.3 278.5,547.7" stroke-width="1.4"/>
<text transform="translate(74.18,535.35) scale(0.920,1)" font-size="10.14" class="m">5</text>
<text transform="translate(80.45,535.35) scale(0.920,1)" font-size="10.14" class="m">1</text>
<text transform="translate(87.00,535.35) scale(0.920,1)" font-size="10.14" class="m">0</text>
<text transform="translate(100.12,535.35) scale(0.693,1)" font-size="10.14" class="m">1</text>
<text transform="translate(104.64,535.35) scale(0.693,1)" font-size="10.14" class="m">5</text>
<text transform="translate(109.20,535.35) scale(0.693,1)" font-size="10.14" class="m">0</text>
<text transform="translate(109.44,547.85) scale(0.874,1)" font-size="10.85" class="m">1</text>
<text transform="translate(115.10,547.85) scale(0.874,1)" font-size="10.85" class="m">2</text>
<text transform="translate(120.71,547.85) scale(0.874,1)" font-size="10.85" class="m">2</text>
<text transform="translate(126.42,547.85) scale(0.874,1)" font-size="10.85" class="m">0</text>
<text transform="translate(168.19,535.85) scale(0.843,1)" font-size="12.25" class="m">9</text>
<text transform="translate(174.15,535.85) scale(0.843,1)" font-size="12.25" class="m">1</text>
<text transform="translate(180.48,535.85) scale(0.843,1)" font-size="12.25" class="m">0</text>
<text transform="translate(180.51,545.65) scale(0.857,1)" font-size="10.00" class="m">1</text>
<text transform="translate(185.74,545.65) scale(0.857,1)" font-size="10.00" class="m">3</text>
<text transform="translate(190.92,545.65) scale(0.857,1)" font-size="10.00" class="m">6</text>
<text transform="translate(196.19,545.65) scale(0.857,1)" font-size="10.00" class="m">0</text>
<text transform="translate(234.15,546.35) scale(0.869,1)" font-size="10.14" class="m">8</text>
<text transform="translate(239.25,546.35) scale(0.869,1)" font-size="10.14" class="m">1</text>
<text transform="translate(244.61,546.35) scale(0.869,1)" font-size="10.14" class="m">5</text>
<text transform="translate(251.56,534.25) scale(0.920,1)" font-size="8.59" class="m">1</text>
<text transform="translate(256.61,534.25) scale(0.920,1)" font-size="8.59" class="m">6</text>
<text transform="translate(261.78,534.25) scale(0.920,1)" font-size="8.59" class="m">5</text>
<text transform="translate(278.68,534.75) scale(1.024,1)" font-size="10.14" class="m">90</text>
<polyline points="280.0,499.4 306.0,499.4" stroke-width="1.4"/>
<polyline points="276.0,503.7 306.0,503.7" stroke-width="1.4"/>
<polyline points="301.4,481.4 301.4,507.0" stroke-width="1.4"/>
<polyline points="299.2,497.2 303.6,501.6" stroke-width="1.6"/>
<polyline points="299.2,501.5 303.6,505.9" stroke-width="1.6"/>
<g transform="translate(290.00,495.00) rotate(-90)">
<text transform="translate(0.00,8.45) scale(0.634,1)" font-size="11.69" class="m">4</text>
<text transform="translate(5.00,8.45) scale(0.634,1)" font-size="11.69" class="m">0</text>
</g>
<text transform="translate(384.91,15.41) scale(0.760,1)" font-size="14.38" class="h">Н</text>
<text transform="translate(394.63,15.41) scale(0.744,1)" font-size="14.38" class="h">Р</text>
<text transform="translate(404.27,15.41) scale(0.872,1)" font-size="14.18" class="h">2</text>
<text transform="translate(414.50,15.10) scale(0.807,1)" font-size="11.46" class="h">Л</text>
<polyline points="422.3,10.9 425.6,10.9" stroke-width="1.8"/>
<text transform="translate(431.31,15.27) scale(0.862,1)" font-size="13.98" class="h">3</text>
<text transform="translate(439.83,15.41) scale(0.912,1)" font-size="14.38" class="h">4</text>
<rect x="447.3" y="13.8" width="1.8" height="1.8" fill="#0d0d0d" stroke="none"/>
<text transform="translate(452.64,15.41) scale(0.918,1)" font-size="14.18" class="h">2</text>
<text transform="translate(460.36,15.27) scale(0.896,1)" font-size="13.98" class="h">6</text>
<rect x="467.6" y="13.8" width="1.8" height="1.8" fill="#0d0d0d" stroke="none"/>
<text transform="translate(473.69,15.27) scale(0.892,1)" font-size="13.98" class="h">3</text>
<polyline points="495.0,10.9 498.5,10.9" stroke-width="1.8"/>
<text transform="translate(502.93,15.27) scale(0.998,1)" font-size="13.98" class="h">3</text>
<text transform="translate(513.93,13.88) scale(0.937,1)" font-size="13.46" class="h">б</text>
<text transform="translate(534.04,14.46) scale(0.576,1)" font-size="15.39" class="h">С</text>
<text transform="translate(544.06,14.31) scale(0.879,1)" font-size="10.33" class="h">Х</text>
<text transform="translate(552.39,14.31) scale(0.840,1)" font-size="10.33" class="h">Е</text>
<text transform="translate(560.14,14.31) scale(1.030,1)" font-size="10.33" class="h">М</text>
<text transform="translate(572.19,14.31) scale(0.902,1)" font-size="11.05" class="h">А</text>
<text transform="translate(584.95,13.95) scale(1.008,1)" font-size="13.32" class="h">Ф</text>
<text transform="translate(596.79,14.01) scale(0.759,1)" font-size="11.34" class="h">А</text>
<text transform="translate(604.48,13.90) scale(0.732,1)" font-size="11.02" class="h">С</text>
<text transform="translate(612.49,14.01) scale(0.812,1)" font-size="11.34" class="h">А</text>
<text transform="translate(620.92,12.84) scale(1.211,1)" font-size="10.37" class="h">Д</text>
<text transform="translate(631.59,14.01) scale(0.892,1)" font-size="11.34" class="h">А</text>
<polyline points="381.0,19.1 641.5,17.6" stroke-width="2.5"/>
<rect x="471.2" y="38.8" width="100.3" height="78.2" stroke-width="1.5"/>
<polyline points="505.5,33.0 505.5,38.8" stroke-width="1.5"/>
<polyline points="543.8,33.0 543.8,38.8" stroke-width="1.5"/>
<polyline points="509.0,50.5 544.8,50.5 544.8,90.0 534.2,90.0 534.2,113.6 509.0,113.6 509.0,50.5" stroke-width="1.5"/>
<text transform="translate(511.28,72.12) scale(0.641,1)" font-size="12.82" class="m">ОС15-05</text>
<polyline points="511.0,73.8 544.5,73.8" stroke-width="1.1"/>
<text transform="translate(511.28,83.93) scale(0.687,1)" font-size="12.11" class="m">ОР15-05</text>
<text transform="translate(536.22,100.85) scale(0.611,1)" font-size="10.85" class="m">Б</text>
<text transform="translate(541.20,100.85) scale(0.611,1)" font-size="10.85" class="m">С</text>
<text transform="translate(546.70,100.85) scale(0.611,1)" font-size="10.85" class="m">2</text>
<text transform="translate(551.02,100.85) scale(0.611,1)" font-size="10.85" class="m">2</text>
<text transform="translate(555.36,100.85) scale(0.611,1)" font-size="10.85" class="m">-</text>
<text transform="translate(558.32,100.85) scale(0.611,1)" font-size="10.85" class="m">0</text>
<text transform="translate(562.77,100.85) scale(0.611,1)" font-size="10.85" class="m">9</text>
<text transform="translate(567.45,100.85) scale(0.611,1)" font-size="10.85" class="m">А</text>
<polyline points="536.0,102.5 572.0,102.5" stroke-width="1.1"/>
<text transform="translate(536.12,112.43) scale(0.649,1)" font-size="12.11" class="m">БР22-09А</text>
<text transform="translate(434.31,63.12) scale(0.817,1)" font-size="22.68" class="m">3</text>
<polyline points="449.9,45.0 449.9,66.0" stroke-width="1.4"/>
<path d="M447.6,55.4 L449.9,63 L452.4,55.4 Z" fill="#0d0d0d" stroke-width="0.6"/>
<polyline points="443.6,67.7 466.0,67.7" stroke-width="2.8"/>
<text transform="translate(613.07,60.64) scale(0.824,1)" font-size="20.70" class="m">3</text>
<polyline points="606.3,43.6 606.3,66.0" stroke-width="1.4"/>
<path d="M604.1,56 L606.3,63.5 L608.6,56 Z" fill="#0d0d0d" stroke-width="0.6"/>
<polyline points="590.2,67.7 612.9,67.7" stroke-width="2.8"/>
<polyline points="467.0,139.8 575.0,139.8" stroke-width="1.4"/>
<polyline points="471.4,121.5 471.4,143.0" stroke-width="1.4"/>
<polyline points="469.6,141.6 473.2,138.0" stroke-width="1.4"/>
<polyline points="510.7,121.5 510.7,143.0" stroke-width="1.4"/>
<polyline points="508.9,141.6 512.5,138.0" stroke-width="1.4"/>
<polyline points="546.4,121.5 546.4,143.0" stroke-width="1.4"/>
<polyline points="544.6,141.6 548.2,138.0" stroke-width="1.4"/>
<polyline points="571.5,121.5 571.5,143.0" stroke-width="1.4"/>
<polyline points="569.7,141.6 573.3,138.0" stroke-width="1.4"/>
<text transform="translate(481.01,136.05) scale(0.823,1)" font-size="11.97" class="m">1</text>
<text transform="translate(486.98,136.05) scale(0.823,1)" font-size="11.97" class="m">2</text>
<text transform="translate(492.90,136.05) scale(0.823,1)" font-size="11.97" class="m">7</text>
<text transform="translate(498.92,136.05) scale(0.823,1)" font-size="11.97" class="m">0</text>
<text transform="translate(518.42,136.05) scale(0.814,1)" font-size="11.97" class="m">1</text>
<text transform="translate(524.34,136.05) scale(0.814,1)" font-size="11.97" class="m">2</text>
<text transform="translate(530.21,136.05) scale(0.814,1)" font-size="11.97" class="m">6</text>
<text transform="translate(536.28,136.05) scale(0.814,1)" font-size="11.97" class="m">0</text>
<text transform="translate(551.95,136.05) scale(0.920,1)" font-size="11.97" class="m">8</text>
<text transform="translate(558.51,136.05) scale(0.920,1)" font-size="11.97" class="m">6</text>
<text transform="translate(565.18,136.05) scale(0.920,1)" font-size="11.97" class="m">5</text>
<text transform="translate(511.12,173.27) scale(0.897,1)" font-size="17.61" class="m">3</text>
<polyline points="524.0,167.7 529.1,167.7" stroke-width="1.8"/>
<text transform="translate(532.56,173.27) scale(0.837,1)" font-size="17.61" class="m">3</text>
<polyline points="508.9,176.3 545.3,176.3" stroke-width="2.4"/>
<polyline points="473.1,206.4 473.1,201.6 483.3,201.6 485.2,196.4 570.7,196.4 570.7,200.2 575.3,200.2 575.3,206.4 473.1,206.4" stroke-width="1.7"/>
<polyline points="510.3,196.4 512.4,202.3 514.3,206.4" stroke-width="1.5"/>
<polyline points="512.4,202.3 547.8,202.3" stroke-width="1.4"/>
<polyline points="514.3,204.4 533.7,204.4" stroke-width="0.9"/>
<polyline points="535.5,204.4 547.4,204.4" stroke-width="0.9"/>
<polyline points="535.3,196.4 534.0,204.0" stroke-width="1.4"/>
<polyline points="548.8,196.4 547.6,206.4" stroke-width="1.5"/>
<text transform="translate(472.57,260.55) scale(0.934,1)" font-size="16.71" class="m">2</text>
<polyline points="484.9,255.2 489.5,255.2" stroke-width="1.8"/>
<text transform="translate(493.21,260.55) scale(0.881,1)" font-size="16.71" class="m">2</text>
<polyline points="469.4,264.5 504.6,264.5" stroke-width="2.4"/>
<polyline points="475.7,322.5 475.7,293.6 498.9,293.6 498.9,445.5" stroke-width="1.5"/>
<polyline points="475.5,323.4 482.2,320.5 498.7,320.5" stroke-width="1.3"/>
<rect x="479.3" y="296.8" width="5.8" height="19.6" stroke-width="1.6"/>
<rect x="486.9" y="296.8" width="8.1" height="19.6" stroke-width="1.6"/>
<polyline points="475.7,322.5 475.7,443.6" stroke-width="1.5"/>
<polyline points="482.9,320.0 482.9,394.3 476.1,398.6" stroke-width="1.3"/>
<polyline points="483.3,394.3 483.3,443.6" stroke-width="1.3"/>
<polyline points="483.3,397.0 500.0,400.7" stroke-width="1.1"/>
<polyline points="476.1,443.0 483.3,443.0" stroke-width="1.1"/>
<g transform="translate(501.60,419.00) rotate(-90)">
<text transform="translate(0.15,8.85) scale(0.797,1)" font-size="12.25" class="m">А</text>
<text transform="translate(7.33,8.85) scale(0.797,1)" font-size="12.25" class="m">Н</text>
<text transform="translate(14.27,8.85) scale(0.797,1)" font-size="12.25" class="m">Р</text>
<text transform="translate(21.25,8.85) scale(0.797,1)" font-size="12.25" class="m">2</text>
<text transform="translate(27.21,8.85) scale(0.797,1)" font-size="12.25" class="m">-</text>
<text transform="translate(31.12,8.85) scale(0.797,1)" font-size="12.25" class="m">3</text>
<text transform="translate(37.43,8.85) scale(0.797,1)" font-size="12.25" class="m">4</text>
<text transform="translate(43.14,8.85) scale(0.797,1)" font-size="12.25" class="m">.</text>
<text transform="translate(45.93,8.85) scale(0.797,1)" font-size="12.25" class="m">2</text>
<text transform="translate(51.84,8.85) scale(0.797,1)" font-size="12.25" class="m">6</text>
<text transform="translate(57.46,8.85) scale(0.797,1)" font-size="12.25" class="m">.</text>
<text transform="translate(60.35,8.85) scale(0.797,1)" font-size="12.25" class="m">3</text>
<text transform="translate(69.41,8.85) scale(0.797,1)" font-size="12.25" class="m">-</text>
<text transform="translate(73.32,8.85) scale(0.797,1)" font-size="12.25" class="m">3</text>
<text transform="translate(79.23,8.85) scale(0.797,1)" font-size="12.25" class="m">б</text>
<text transform="translate(85.82,8.85) scale(0.797,1)" font-size="12.25" class="m">л</text>
</g>
<polyline points="498.9,315.5 511.8,330.0 511.8,422.9 490.7,446.4" stroke-width="1.2"/>
<rect x="476.4" y="443.6" width="22.9" height="10.7" stroke-width="1.5"/>
<path d="M479,450.5 Q485,448 490,450 T497,450" stroke-width="1.2"/>
<circle cx="449.0" cy="341.6" r="13.5" stroke-width="1.6"/>
<polyline points="435.5,341.6 462.5,341.6" stroke-width="1.4"/>
<text transform="translate(443.94,339.05) scale(0.958,1)" font-size="9.86" class="c">16</text>
<text transform="translate(442.87,352.33) scale(0.985,1)" font-size="11.69" class="c">20</text>
<polyline points="462.5,341.6 467.4,341.6 475.2,325.0" stroke-width="1.4"/>
<circle cx="450.5" cy="434.7" r="13.3" stroke-width="1.6"/>
<polyline points="437.2,434.7 463.8,434.7" stroke-width="1.4"/>
<text transform="translate(445.11,433.25) scale(1.013,1)" font-size="9.72" class="c">18б</text>
<text transform="translate(444.07,445.33) scale(0.985,1)" font-size="11.69" class="c">20</text>
<polyline points="463.8,434.7 470.7,434.7 476.4,442.0" stroke-width="1.4"/>
<polyline points="502.0,294.0 533.4,294.0" stroke-width="1.4"/>
<polyline points="502.0,320.5 533.4,320.5" stroke-width="1.4"/>
<polyline points="499.0,446.0 535.0,446.0" stroke-width="1.4"/>
<polyline points="505.0,454.3 535.0,454.3" stroke-width="1.4"/>
<polyline points="529.9,294.0 529.9,472.0" stroke-width="1.4"/>
<polyline points="527.8,291.8 532.2,296.2" stroke-width="1.6"/>
<polyline points="527.8,318.3 532.2,322.7" stroke-width="1.6"/>
<polyline points="527.8,443.8 532.2,448.2" stroke-width="1.6"/>
<polyline points="527.8,452.1 532.2,456.5" stroke-width="1.6"/>
<g transform="translate(519.40,314.00) rotate(-90)">
<text transform="translate(-0.28,8.05) scale(0.772,1)" font-size="11.13" class="m">2</text>
<text transform="translate(5.01,8.05) scale(0.772,1)" font-size="11.13" class="m">9</text>
<text transform="translate(10.38,8.05) scale(0.772,1)" font-size="11.13" class="m">0</text>
</g>
<g transform="translate(521.40,385.00) rotate(-90)">
<text transform="translate(-0.30,7.05) scale(0.920,1)" font-size="9.72" class="m">2</text>
<text transform="translate(6.27,7.05) scale(0.920,1)" font-size="9.72" class="m">2</text>
<text transform="translate(12.84,7.05) scale(0.920,1)" font-size="9.72" class="m">2</text>
<text transform="translate(19.50,7.05) scale(0.920,1)" font-size="9.72" class="m">0</text>
</g>
<g transform="translate(521.00,468.70) rotate(-90)">
<text transform="translate(-0.46,6.85) scale(0.869,1)" font-size="9.44" class="m">1</text>
<text transform="translate(4.52,6.85) scale(0.869,1)" font-size="9.44" class="m">0</text>
<text transform="translate(9.59,6.85) scale(0.869,1)" font-size="9.44" class="m">0</text>
</g>
<text transform="translate(479.78,474.35) scale(0.709,1)" font-size="12.96" class="m">3</text>
<text transform="translate(485.70,474.35) scale(0.709,1)" font-size="12.96" class="m">0</text>
<text transform="translate(491.67,474.35) scale(0.709,1)" font-size="12.96" class="m">0</text>
<polyline points="472.0,478.0 502.0,478.0" stroke-width="1.4"/>
<polyline points="475.7,453.6 475.7,481.0" stroke-width="1.4"/>
<polyline points="499.0,453.6 499.0,481.0" stroke-width="1.4"/>
<polyline points="473.9,479.8 477.5,476.2" stroke-width="1.4"/>
<polyline points="497.2,479.8 500.8,476.2" stroke-width="1.4"/>
</g>
</svg>
</body></html>
